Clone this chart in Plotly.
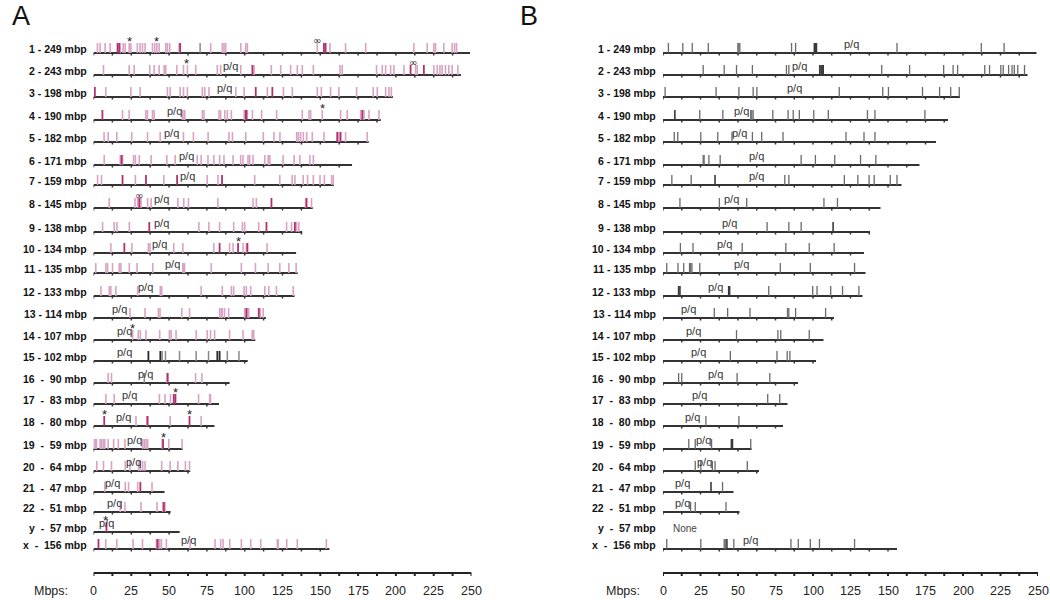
import plotly.graph_objects as go

# ---------------- data ----------------
CHROMS = ["1", "2", "3", "4", "5", "6", "7", "8", "9", "10", "11", "12",
          "13", "14", "15", "16", "17", "18", "19", "20", "21", "22", "y", "x"]
LENGTHS = [249, 243, 198, 190, 182, 171, 159, 145, 138, 134, 135, 133,
           114, 107, 102, 90, 83, 80, 59, 64, 47, 51, 57, 156]
LABELS = ["1 - 249 mbp", "2 - 243 mbp", "3 - 198 mbp", "4 - 190 mbp", "5 - 182 mbp",
          "6 - 171 mbp", "7 - 159 mbp", "8 - 145 mbp", "9 - 138 mbp", "10 - 134 mbp",
          "11 - 135 mbp", "12 - 133 mbp", "13 - 114 mbp", "14 - 107 mbp", "15 - 102 mbp",
          "16  -  90 mbp", "17  -  83 mbp", "18  -  80 mbp", "19  -  59 mbp", "20  -  64 mbp",
          "21  -  47 mbp", "22  -  51 mbp", "y  -  57 mbp", "x  -  156 mbp"]

# Panel A sites (Mbp)
A_LIGHT = [
    [2.6, 4.4, 7.7, 11, 17.6, 19.6, 20.9, 23.6, 24.7, 29, 30.8, 32.4, 34.1, 39, 40.5, 41.9, 43.4,
     47.8, 48.9, 50.4, 56.6, 77.5, 85.2, 86.3, 87.4, 97.4, 100.7, 101.8, 148, 156.4, 166.7, 180,
     211.9, 220.7, 225.1, 226.2, 231.7, 237.2, 238.8, 240.1],
    [6.6, 23.6, 26.9, 37.2, 40.1, 43.4, 46.7, 47.8, 55.1, 59.5, 62.1, 67.6, 81.9, 84.1, 97.4, 106.2,
     117.6, 123.8, 130.4, 134.8, 138.1, 145.4, 163, 164.5, 187.2, 191, 193.2, 196.5, 198.7, 205.3,
     213, 214.1, 225.1, 227.3, 229.1, 230.6, 232.8, 235, 237.2, 241],
    [8.1, 24.7, 30.8, 48.9, 50.7, 57.3, 59.5, 62.1, 72, 73.6, 76.4, 94.1, 99.6, 115, 125.6, 131.5,
     148, 150.7, 156.8, 162.3, 174, 185, 187.7, 193.2, 195.4, 197],
    [19.2, 23.6, 34.6, 35.7, 39, 40.1, 58.8, 59.9, 60.4, 72, 73.1, 83, 84.1, 86.8, 88.5, 91.2, 99.6,
     105.1, 111.2, 121.1, 138.1, 142.5, 143.6, 151.3, 163.4, 167.8, 176.7, 178.9, 182.2, 188.8],
    [7, 9.7, 15.4, 25.3, 35.7, 44.1, 59.5, 66.1, 75.8, 89.6, 91.9, 100.7, 112.3, 119.4, 123.3,
     134.4, 135.5, 137, 138.8, 141, 144.7, 152.4, 162.3, 166.7, 181],
    [7.1, 17.7, 19.2, 26.5, 27.7, 30.3, 38.1, 48.5, 54, 68.6, 71.2, 75.7, 79.6, 83.4, 86.3, 92.3,
     97.3, 98.9, 102.2, 103.3, 105.5, 113.3, 115.5, 116.6, 125.4, 132.7, 136.5, 143.1, 145.4],
    [2.7, 5.3, 27.7, 46.5, 75.2, 82.3, 106.6, 123.2, 131.4, 133.2, 138.7, 141.6, 145.4, 149.8,
     152.7, 157.5, 158.6],
    [10.4, 27.4, 29.2, 31.4, 35.8, 38.1, 55.8, 59.7, 62.8, 82.3, 105.5, 107.7, 140.3, 144.2],
    [6, 13.7, 15.5, 23.7, 69.7, 76.3, 83.4, 92.7, 98.5, 100, 109.3, 127.7, 131, 134.3, 135.8],
    [11.5, 25.4, 36.3, 37.4, 53.1, 59.1, 79.6, 90, 92.3, 98.9, 101.1, 114.8],
    [1.5, 8.2, 9.3, 12.6, 17, 18.1, 23.7, 28.8, 39.2, 59.1, 59.7, 60.2, 77.9, 97.8, 107.1, 115.5,
     123.2, 129.2, 134],
    [4.9, 10.4, 11.5, 14.8, 29.2, 44.2, 45.1, 71.2, 85.2, 91.2, 92.7, 99.6, 101.1, 104, 113.3,
     115.9, 121, 132.1],
    [24.1, 34.1, 42.9, 44, 58.4, 63.5, 83.4, 84.5, 85.2, 86.7, 89.4, 100, 101.8, 102.7, 110.2, 112.2],
    [25.9, 29.6, 31, 34.7, 43.8, 50.2, 51.3, 54.6, 67.9, 75.2, 77.4, 80.1, 90, 98.9, 104.9, 106],
    [],
    [9.7, 11.9, 48.5, 67.5, 71.7],
    [8.2, 13.7, 43.6, 47.3, 50.9, 69.5, 76.8, 77.4],
    [28.1, 35.2, 50.7, 71.2],
    [0.4, 1.1, 2, 4.4, 5.3, 6.4, 7.5, 9.7, 13.3, 16.4, 20.8, 32.5, 33.6, 34.7, 35.8, 45.4, 49.8, 58.6],
    [2.2, 6.6, 11.9, 21, 24.1, 29.9, 31, 32.5, 34.1, 45.1, 50.7, 55.8, 60.8, 63.5],
    [7.5, 21, 23.2, 29.2, 38.7],
    [17.7, 20.8, 31.4, 42, 45.8, 47.3],
    [],
    [8.1, 15.4, 26.2, 32.4, 41.6, 43, 43.8, 44.9, 48.2, 63.9, 80.4, 84.1, 85.7, 90.1, 97.8, 104,
     110.6, 121.6, 122.2, 127.8, 134.8, 154],
]
A_DARK = [
    [15.9, 17, 57.3, 152.4, 153.5], [105.1, 209.7, 218.5], [0.9, 107.3, 118.3],
    [5.9, 100.7, 101.3, 177.8], [161.2, 163.4], [18.6], [19.2, 34.7, 55.3, 85],
    [30.3, 117.7, 140.9], [36.9, 114.4, 133.2], [20.4, 83.4, 95.6, 101.8], [], [],
    [101.1, 109.3], [], [], [49.1], [53.1, 54.2], [7.1, 35.8, 63.5], [46], [], [31],
    [46.5], [8.6], [3.3, 42.3],
]
A_GRAY = [[70.5], [], [], [], [], [], [], [], [], [], [], [], [], [],
          [45.4, 47.6, 56.9, 67.9, 76.1, 88.5, 96.2], [33.6], [], [], [], [], [], [], [], []]
A_BLACK = [[], [], [], [], [], [], [], [], [], [], [], [], [], [],
           [36.3, 44.2, 81.9, 83.4], [], [], [], [], [], [], [], [], []]
A_STARS = [[23.6, 41.9], [61.5], [], [151.3], [], [], [], [], [], [95.6], [], [], [],
           [26], [], [], [54.2], [7.1, 63.5], [46], [], [], [], [8.2], []]
A_INF = [[148], [211], [], [], [], [], [], [29.9], [], [], [], [], [], [], [], [], [], [],
         [], [], [], [], [], []]
A_PQ = [None, 90.7, 86.8, 53.3, 51.8, 61.7, 62, 45.1, 45.1, 43.6, 52.4, 34.1, 17, 20.4,
        20.8, 34.3, 23.7, 19.7, 26.9, 26.3, 12.6, 13.7, 8.8, 62.6]

# Panel B sites (Mbp)
B_BARS = [
    [3.6, 13.2, 19.5, 30.2, 49.9, 50.6, 51.2, 85.7, 88.4, 156, 212.2, 227.4],
    [26.8, 40.8, 49, 59.6, 82.3, 83.9, 145.8, 164.4, 187.1, 193.4, 196.4, 214.5, 217.7, 225.2,
     226.8, 230.4, 232.7, 234.2, 236.5, 241],
    [1.4, 35.4, 50.6, 60.1, 62.6, 117.5, 146.5, 150.3, 173, 184.4, 191.8, 197.5],
    [24.5, 39.9, 58.5, 59.2, 60.1, 73.2, 83.4, 86.8, 90.9, 100.5, 110.2, 136.3, 141.3, 174.6],
    [7.5, 9.8, 25.2, 36.5, 46, 59.6, 65.8, 80, 122, 134, 141.3],
    [26.8, 27.4, 30.6, 38.1, 92.1, 101.6, 114.5, 131.7, 141.9],
    [5.9, 18.8, 81.2, 83.9, 120.9, 129.9, 137.4, 140.8, 151.5, 156],
    [11.3, 37.6, 55.8, 107.3, 116.3],
    [69.4, 83.9, 92.1],
    [11.6, 20, 52.8, 81.9, 97.5, 114.1],
    [2.5, 10, 13.8, 17.7, 18.4, 19.3, 24.5, 78.2, 98.2, 127.7],
    [70.5, 99.8, 102.7, 111.8, 119.7, 130.6],
    [34.2, 43.1, 58, 83, 83.9, 88.4, 108.4],
    [49, 76.6, 78.5, 97.5],
    [44.9, 76, 82.8, 84.6],
    [10.4, 12.5, 49.4, 71.2],
    [69.8, 77.8],
    [28.6, 50.6],
    [17.2, 21.5, 32.4, 58.5],
    [21.5, 25.2, 32.9, 34.7, 56.2],
    [39.7],
    [18.4, 21.5, 42],
    [],
    [2.5, 25.2, 40.8, 41.5, 47.2, 85.3, 90.2, 98.2, 104.3, 127.7],
]
B_DARK = [
    [100.9, 101.6, 102.3], [104.5, 105.4, 106.1, 106.8], [], [7.9], [], [], [34.7], [],
    [113.4], [], [], [10.4, 11.3, 43.8, 44.4], [], [], [], [], [], [], [45.6, 46.3], [],
    [32], [], [], [42.6],
]
B_PQ = [125.4, 91, 87.5, 52.4, 51.2, 62.4, 62.4, 45.4, 44.4, 40.8, 52.2, 34.7, 17.2, 20,
        23.4, 34.7, 24.5, 19.5, 26.8, 27.9, 12.7, 12.7, None, 58.5]
B_NONE = ["", "", "", "", "", "", "", "", "", "", "", "", "", "", "", "", "", "", "", "",
          "", "", "None", ""]

AXIS_TICKS = [0, 25, 50, 75, 100, 125, 150, 175, 200, 225, 250]
MINOR_STEP = 12.5

# ---------------- layout constants (pixels) ----------------
W, H = 1050, 600
A_X0, A_X1 = 93.5, 471.5
B_X0, B_X1 = 663, 1038
ROW_Y = [53, 75, 97, 120, 142, 165, 185, 208, 232, 253, 273, 296, 318, 340, 361, 383, 404,
         426, 449, 471, 492, 512, 532, 549]
AXIS_Y = 573
BAR_H = 10
LINE_COLOR = "#333333"
FONT = "Liberation Sans, Arial, sans-serif"


def seg(lists, h=BAR_H):
    xs, ys = [], []
    for i, lst in enumerate(lists):
        for v in lst:
            xs += [v, v, None]
            ys += [ROW_Y[i], ROW_Y[i] - h, None]
    return xs, ys


def chrom_lines(skip=None):
    xs, ys = [], []
    tx, ty = [], []
    for i, L in enumerate(LENGTHS):
        if skip is not None and skip[i]:
            continue
        xs += [0, L, None]
        ys += [ROW_Y[i], ROW_Y[i], None]
        t = 0.0
        while t <= L + 0.01:
            tx += [t, t, None]
            ty += [ROW_Y[i], ROW_Y[i] + 2.5, None]
            t += MINOR_STEP
    return xs, ys, tx, ty


fig = go.Figure()


def add_lines(xs, ys, color, width, axis):
    fig.add_trace(go.Scatter(x=xs, y=ys, mode="lines", xaxis=axis, yaxis="y",
                             line=dict(color=color, width=width), hoverinfo="skip",
                             showlegend=False))


for axis, skip in (("x", None), ("x2", [s == "None" for s in B_NONE])):
    lx, ly, tx, ty = chrom_lines(skip)
    add_lines(lx, ly, LINE_COLOR, 1.8, axis)
    add_lines(tx, ty, LINE_COLOR, 1.5, axis)
    # bottom scale axis
    ax_x = [0, 250, None]
    ax_y = [AXIS_Y, AXIS_Y, None]
    t = 0.0
    while t <= 250.01:
        ax_x += [t, t, None]
        ax_y += [AXIS_Y, AXIS_Y + 3, None]
        t += MINOR_STEP
    add_lines(ax_x, ax_y, "#222222", 2, axis)

# panel A bars
for lists, color, width in ((A_LIGHT, "#d9a3c3", 1.6), (A_GRAY, "#8a8a8a", 1.5),
                            (A_DARK, "#b3306f", 1.8), (A_BLACK, "#2a2a2a", 1.8)):
    xs, ys = seg(lists)
    add_lines(xs, ys, color, width, "x")

# panel B bars
for lists, color, width in ((B_BARS, "#6a6a6a", 1.3), (B_DARK, "#3a3a3a", 1.6)):
    xs, ys = seg(lists)
    add_lines(xs, ys, color, width, "x2")

ann = []
for i, lab in enumerate(LABELS):
    for xr in (A_X0 - 5, B_X0 - 5):
        ann.append(dict(x=xr / W, xref="paper", y=ROW_Y[i] - 4, yref="y", text="<b>%s</b>" % lab,
                        xanchor="right", yanchor="middle", showarrow=False,
                        font=dict(family=FONT, size=10.5, color="#111")))
    if A_PQ[i] is not None:
        ann.append(dict(x=A_PQ[i], xref="x", y=ROW_Y[i] - 1, yref="y", text="p/q",
                        xanchor="center", yanchor="bottom", showarrow=False,
                        font=dict(family=FONT, size=11, color="#333")))
    if B_PQ[i] is not None:
        ann.append(dict(x=B_PQ[i], xref="x2", y=ROW_Y[i] - 1, yref="y", text="p/q",
                        xanchor="center", yanchor="bottom", showarrow=False,
                        font=dict(family=FONT, size=11, color="#333")))
    if B_NONE[i]:
        ann.append(dict(x=(B_X0 + 8) / W, xref="paper", y=ROW_Y[i] - 4, yref="y",
                        text=B_NONE[i], xanchor="left", yanchor="middle", showarrow=False,
                        font=dict(family=FONT, size=10, color="#444")))
    for s in A_STARS[i]:
        ann.append(dict(x=s, xref="x", y=ROW_Y[i] - 12, yref="y", text="*",
                        xanchor="center", yanchor="middle", showarrow=False,
                        font=dict(family=FONT, size=13, color="#222")))
    for s in A_INF[i]:
        ann.append(dict(x=s, xref="x", y=ROW_Y[i] - 13, yref="y", text="∞",
                        xanchor="center", yanchor="middle", showarrow=False,
                        font=dict(family="DejaVu Sans, sans-serif", size=10, color="#222")))

for axis in ("x", "x2"):
    for t in AXIS_TICKS:
        ann.append(dict(x=t, xref=axis, y=591, yref="y", text=str(t), xanchor="center",
                        yanchor="middle", showarrow=False,
                        font=dict(family=FONT, size=12.5, color="#222")))
for xr in (70, 642):
    ann.append(dict(x=xr / W, xref="paper", y=591, yref="y", text="Mbps:", xanchor="right",
                    yanchor="middle", showarrow=False,
                    font=dict(family=FONT, size=12.5, color="#222")))
for xl, t in ((10, "A"), (518, "B")):
    ann.append(dict(x=xl / W, xref="paper", y=16, yref="y", text=t, xanchor="left",
                    yanchor="middle", showarrow=False,
                    font=dict(family=FONT, size=27, color="#111")))

fig.update_layout(
    width=W, height=H, margin=dict(l=0, r=0, t=0, b=0),
    paper_bgcolor="white", plot_bgcolor="white",
    xaxis=dict(domain=[A_X0 / W, A_X1 / W], range=[0, 250], visible=False, anchor="y"),
    xaxis2=dict(domain=[B_X0 / W, B_X1 / W], range=[0, 250], visible=False, anchor="y"),
    yaxis=dict(domain=[0, 1], range=[H, 0], visible=False),
    annotations=ann,
)

fig.write_html("out.html", config={"displayModeBar": False},
               post_script="document.body.style.margin='0px';"
                           "document.body.style.overflow='hidden';")
